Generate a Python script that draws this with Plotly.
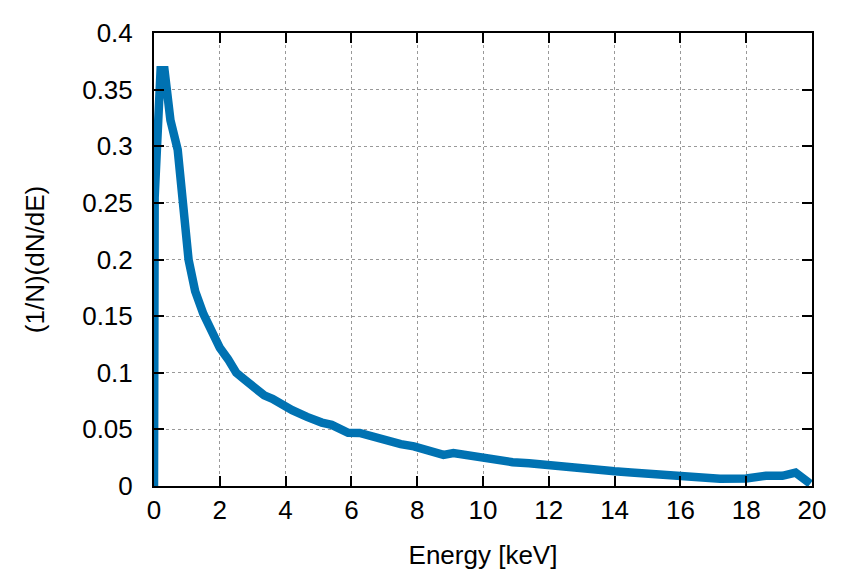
import plotly.graph_objects as go

# spectrum, energy in keV
energy = [0.0, 0.02, 0.2, 0.32, 0.5, 0.72, 1.05, 1.25, 1.5, 1.8, 2.0, 2.25, 2.5,
          2.75, 3.0, 3.35, 3.6, 3.85, 4.2, 4.65, 4.8, 5.1, 5.4, 5.9, 6.25, 6.5,
          6.8, 7.1, 7.5, 7.9, 8.2, 8.5, 8.8, 9.1, 9.5, 9.9, 10.3, 10.6, 10.9,
          11.4, 12.0, 12.5, 13.1, 13.6, 14.0, 14.5, 14.9, 15.5, 16.0, 16.6,
          17.2, 18.0, 18.6, 19.1, 19.5, 19.95]
dnde = [0.0, 0.255, 0.367, 0.367, 0.323, 0.297, 0.2, 0.172, 0.152, 0.134, 0.122,
        0.112, 0.1, 0.094, 0.088, 0.08, 0.077, 0.072, 0.067, 0.061, 0.059,
        0.056, 0.054, 0.047, 0.0468, 0.045, 0.041, 0.04, 0.037, 0.035, 0.033,
        0.031, 0.0275, 0.029, 0.027, 0.025, 0.0235, 0.022, 0.021, 0.02, 0.018,
        0.017, 0.015, 0.013, 0.013, 0.012, 0.011, 0.0095, 0.0083, 0.0072,
        0.0065, 0.0067, 0.009, 0.009, 0.0118, 0.002]

x_ticks = list(range(0, 21, 2))
y_ticks = [0, 0.05, 0.1, 0.15, 0.2, 0.25, 0.3, 0.35, 0.4]
y_labels = ["0", "0.05", "0.1", "0.15", "0.2", "0.25", "0.3", "0.35", "0.4"]

font = dict(family="Liberation Sans, Arial, sans-serif", size=26, color="black")

fig = go.Figure(go.Scatter(x=energy, y=dnde, mode="lines",
                           line=dict(color="#0072b2", width=8.5),
                           showlegend=False))

axis_style = dict(showline=True, linecolor="black", linewidth=2, mirror="ticks",
                  ticks="inside", ticklen=10, tickwidth=1.5, tickcolor="black",
                  showgrid=True, gridcolor="#999999", gridwidth=1, griddash="dot",
                  zeroline=False, tickfont=font)

fig.update_xaxes(range=[0, 20], tickvals=x_ticks,
                 title=dict(text="Energy [keV]", font=font, standoff=22),
                 **axis_style)
fig.update_yaxes(range=[0, 0.4], tickvals=y_ticks, ticktext=y_labels,
                 ticklabelstandoff=14,
                 title=dict(text="(1/N)(dN/dE)", font=font, standoff=30),
                 **axis_style)

# page has an 8px body margin, so the margins are shifted by that much
fig.update_layout(width=864, height=576, plot_bgcolor="white", paper_bgcolor="white",
                  margin=dict(l=146, r=60, t=25, b=98, autoexpand=False),
                  font=font)

fig.write_html("out.html")
